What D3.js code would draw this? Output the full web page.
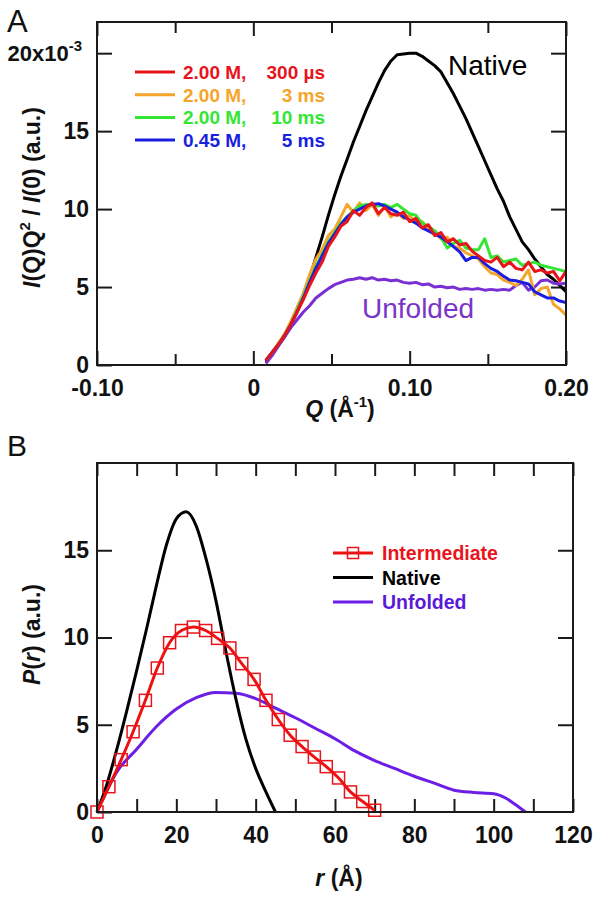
<!DOCTYPE html>
<html>
<head>
<meta charset="utf-8">
<script src="https://cdn.jsdelivr.net/npm/d3@7"></script>
<style>
  html, body { margin: 0; padding: 0; background: #fff; }
  svg { display: block; }
  text { font-family: "Liberation Sans", Arial, sans-serif; }
</style>
</head>
<body>
<svg id="chart" width="601" height="899"></svg>
<script>
// ---------------- Panel A data ----------------
const qA = [0.008,0.012,0.016,0.020,0.024,0.028,0.032,0.036,0.040,0.044,0.048,0.052,0.056,0.060,0.064,0.068,0.072,0.076,0.080,0.084,0.088,0.092,0.096,0.100,0.104,0.108,0.112,0.116,0.120,0.124,0.128,0.132,0.136,0.140,0.144,0.148,0.152,0.156,0.160,0.164,0.168,0.172,0.176,0.180,0.184,0.188,0.192,0.196,0.200];
const nativeA = [0.2,0.7,1.3,1.8,2.6,3.5,4.5,5.6,6.9,8.2,9.6,10.9,12.1,13.2,14.3,15.3,16.3,17.2,18.1,18.9,19.5,19.9,19.95,20.0,20.0,19.8,19.5,19.2,18.8,18.1,17.4,16.6,15.8,14.9,14.0,13.1,12.2,11.3,10.5,9.5,8.7,7.9,7.4,6.8,6.3,5.8,5.5,5.1,4.7];
const unfoldedA = [0.1,0.6,1.2,1.8,2.4,2.9,3.4,3.8,4.3,4.6,4.9,5.15,5.3,5.45,5.5,5.6,5.5,5.6,5.45,5.5,5.4,5.45,5.3,5.25,5.3,5.15,5.2,5.0,5.05,4.95,5.0,4.85,4.9,4.85,4.9,4.8,4.85,4.8,4.85,4.8,5.1,5.3,4.8,5.0,5.4,5.45,5.25,5.2,5.25];
const red300us = [0.3,0.8,1.3,1.9,2.6,3.4,4.2,5.1,5.9,6.6,7.6,8.2,8.9,9.2,9.9,9.6,10.1,10.4,9.7,10.1,9.7,9.6,9.8,9.2,9.4,8.8,9.0,8.3,8.5,7.9,8.1,7.7,7.8,7.3,7.0,6.7,6.6,6.9,6.3,6.6,6.2,6.1,6.6,6.0,6.1,5.9,6.0,5.4,6.0];
const orange3ms = [0.3,0.8,1.4,2.0,2.8,3.7,4.6,5.8,6.8,7.4,8.3,8.7,9.5,10.3,9.8,10.4,9.9,10.3,9.6,10.2,9.5,9.8,9.4,9.6,9.1,9.2,8.7,8.6,8.1,8.2,7.6,7.5,7.2,7.0,6.8,6.3,5.9,5.8,5.45,5.3,5.1,5.5,6.1,4.5,4.9,5.0,3.9,3.6,3.2];
const green10ms = [0.3,0.8,1.3,1.9,2.6,3.5,4.4,5.4,6.3,7.1,7.9,8.5,9.1,9.5,9.9,10.2,10.3,10.3,10.2,10.3,10.1,10.3,10.0,9.7,9.6,9.1,8.9,8.6,8.2,7.5,7.8,8.0,7.5,7.4,7.4,8.1,6.9,7.0,6.6,6.7,6.8,6.4,6.5,6.6,6.4,6.3,6.2,6.1,6.0];
const blue5ms = [0.3,0.8,1.3,1.9,2.6,3.4,4.3,5.3,6.2,7.0,7.8,8.4,9.0,9.5,9.8,10.0,10.2,10.3,10.35,10.2,10.0,9.8,9.5,9.3,9.1,8.8,8.6,8.4,8.2,7.9,7.6,7.25,6.7,6.9,6.9,6.5,6.2,6.0,5.7,5.45,5.4,5.3,5.2,4.7,4.5,4.3,4.3,4.1,4.0];
const legendA_conc = ["2.00 M,", "2.00 M,", "2.00 M,", "0.45 M,"];
const legendA_time = ["300 µs", "3 ms", "10 ms", "5 ms"];
const xTicksA = [-0.10, 0, 0.10, 0.20];
const xMinorA = [-0.05, 0.05, 0.15];
const yTicksA = [0, 5, 10, 15, 20];

// ---------------- Panel B data ----------------
const rNative = [0,2.5,5,7.5,10,12.5,15,17.5,20,22.5,25,27.5,30,32.5,35,37.5,40,42.5,45];
const pNative = [0,1.6,3.6,5.8,8.1,10.5,13.0,15.3,16.8,17.2,16.4,14.5,12.1,9.2,6.5,4.2,2.5,1.2,0];
const rInter = [0,3.0,6.1,9.1,12.2,15.2,18.3,21.3,24.3,27.4,30.4,33.5,36.5,39.6,42.6,45.7,48.7,51.7,54.8,57.8,60.9,63.9,67.0,70.0];
const pInter = [0,1.45,3.0,4.6,6.4,8.25,9.7,10.4,10.6,10.4,9.95,9.4,8.5,7.6,6.4,5.3,4.4,3.75,3.15,2.6,1.95,1.15,0.6,0.1];
const rUnf = [0,5,10,15,20,25,30,35,40,45,50,55,60,65,70,75,80,85,90,95,100,103,105,108];
const pUnf = [0,2.3,3.6,4.9,5.9,6.55,6.85,6.8,6.5,5.95,5.4,4.8,4.2,3.5,2.95,2.5,2.05,1.65,1.25,1.12,1.05,0.8,0.5,0];
const legendB = ["Intermediate", "Native", "Unfolded"];
const xTicksB = [0,20,40,60,80,100,120];
const xMinorB = [10,30,50,70,90,110];
const yTicksB = [0,5,10,15];

// ---------------- drawing ----------------
const svg = d3.select("#chart");
const FONT = '"Liberation Sans", Arial, sans-serif';
const TICKFS = 23;

function frame(g, x0, y0, x1, y1) {
  g.append("rect").attr("x", x0).attr("y", y0).attr("width", x1 - x0).attr("height", y1 - y0)
    .attr("fill", "none").attr("stroke", "#1a1a1a").attr("stroke-width", 2);
}
function styleAxis(sel, fs) {
  sel.select(".domain").remove();
  sel.selectAll(".tick line").attr("stroke", "#1a1a1a").attr("stroke-width", 2);
  sel.selectAll(".tick text").attr("fill", "#111").style("font-family", FONT)
    .style("font-size", fs + "px").style("font-weight", "bold");
}

// ===== Panel A =====
const A = { l: 97, r: 566, t: 22, b: 365 };
const xA = d3.scaleLinear().domain([-0.10, 0.20]).range([A.l, A.r]);
const yA = d3.scaleLinear().domain([0, 22]).range([A.b, A.t]);
const gA = svg.append("g");

const fmtA = d => d === 0 ? "0" : d3.format(".2f")(d).replace("−", "-");
gA.append("g").attr("transform", `translate(0,${A.b})`)
  .call(d3.axisBottom(xA).tickValues(xTicksA).tickSizeInner(-14).tickSizeOuter(0).tickPadding(15).tickFormat(fmtA))
  .call(s => styleAxis(s, TICKFS));
gA.append("g").attr("transform", `translate(0,${A.b})`)
  .call(d3.axisBottom(xA).tickValues(xMinorA).tickSizeInner(-11).tickSizeOuter(0).tickFormat(""))
  .call(s => styleAxis(s, TICKFS));
gA.append("g").attr("transform", `translate(0,${A.t})`)
  .call(d3.axisTop(xA).tickValues(xTicksA).tickSizeInner(-14).tickSizeOuter(0).tickFormat(""))
  .call(s => styleAxis(s, TICKFS));
gA.append("g").attr("transform", `translate(0,${A.t})`)
  .call(d3.axisTop(xA).tickValues(xMinorA).tickSizeInner(-11).tickSizeOuter(0).tickFormat(""))
  .call(s => styleAxis(s, TICKFS));
gA.append("g").attr("transform", `translate(${A.l},0)`)
  .call(d3.axisLeft(yA).tickValues(yTicksA).tickSizeInner(-15).tickSizeOuter(0).tickPadding(8).tickFormat(d => d === 20 ? "" : d))
  .call(s => styleAxis(s, TICKFS));
gA.append("g").attr("transform", `translate(${A.r},0)`)
  .call(d3.axisRight(yA).tickValues(yTicksA.filter(d => d > 0)).tickSizeInner(-15).tickSizeOuter(0).tickFormat(""))
  .call(s => styleAxis(s, TICKFS));
// 20x10^-3 label
const t20 = gA.append("text").attr("x", A.l - 15).attr("y", yA(20) + 8).attr("text-anchor", "end")
  .style("font-size", "22px").style("font-weight", "bold").attr("fill", "#111");
t20.append("tspan").text("20x10");
t20.append("tspan").attr("dy", -10).style("font-size", "15px").text("-3");

// curves A
const lineA = vals => d3.line().x((d, i) => xA(qA[i])).y(d => yA(d))(vals);
const seriesA = [
  { v: nativeA, c: "#000000" },
  { v: unfoldedA, c: "#7a2fd4" },
  { v: orange3ms, c: "#f5a52a" },
  { v: green10ms, c: "#33e633" },
  { v: blue5ms, c: "#1a1ee0" },
  { v: red300us, c: "#e8141c" }
];
svg.append("clipPath").attr("id", "clipA").append("rect")
  .attr("x", A.l).attr("y", A.t).attr("width", A.r - A.l).attr("height", A.b - A.t);
const curvesA = gA.append("g").attr("clip-path", "url(#clipA)");
seriesA.forEach(s => {
  curvesA.append("path").attr("d", lineA(s.v)).attr("fill", "none")
    .attr("stroke", s.c).attr("stroke-width", 3).attr("stroke-linejoin", "round");
});
frame(gA, A.l, A.t, A.r, A.b);

// legend A
const legColA = ["#e8141c", "#f5a52a", "#33e633", "#1a1ee0"];
legendA_conc.forEach((c, i) => {
  const y = 72 + i * 22.7;
  gA.append("line").attr("x1", 135).attr("x2", 175).attr("y1", y).attr("y2", y)
    .attr("stroke", legColA[i]).attr("stroke-width", 3);
  gA.append("text").attr("x", 183).attr("y", y + 7).text(c).attr("fill", legColA[i])
    .style("font-size", "19px").style("font-weight", "bold");
  gA.append("text").attr("x", 325).attr("y", y + 7).attr("text-anchor", "end").text(legendA_time[i])
    .attr("fill", legColA[i]).style("font-size", "19px").style("font-weight", "bold");
});
gA.append("text").attr("x", 448).attr("y", 75).text("Native").attr("fill", "#000").style("font-size", "28px");
gA.append("text").attr("x", 362).attr("y", 318).text("Unfolded").attr("fill", "#7a35c8").style("font-size", "28px");

// axis titles A
const ytA = gA.append("text").attr("transform", `translate(40,${(A.t + A.b) / 2 + 4}) rotate(-90)`)
  .attr("text-anchor", "middle").style("font-size", "23px").style("font-weight", "bold").attr("fill", "#111");
ytA.append("tspan").style("font-style", "italic").text("I");
ytA.append("tspan").text("(Q)Q");
ytA.append("tspan").attr("dy", -10).style("font-size", "15px").text("2");
ytA.append("tspan").attr("dy", 10).text(" / ");
ytA.append("tspan").style("font-style", "italic").text("I");
ytA.append("tspan").text("(0) (a.u.)");

const xtA = gA.append("text").attr("x", 340).attr("y", 417).attr("text-anchor", "middle")
  .style("font-size", "23px").style("font-weight", "bold").attr("fill", "#111");
xtA.append("tspan").style("font-style", "italic").text("Q");
xtA.append("tspan").text(" (Å");
xtA.append("tspan").attr("dy", -10).style("font-size", "15px").text("-1");
xtA.append("tspan").attr("dy", 10).text(")");

svg.append("text").attr("x", 7).attr("y", 32).text("A").style("font-size", "31px").attr("fill", "#111");

// ===== Panel B =====
const B = { l: 97, r: 573, t: 463, b: 812 };
const xB = d3.scaleLinear().domain([0, 120]).range([B.l, B.r]);
const yB = d3.scaleLinear().domain([0, 20]).range([B.b, B.t]);
const gB = svg.append("g");

gB.append("g").attr("transform", `translate(0,${B.b})`)
  .call(d3.axisBottom(xB).tickValues(xTicksB).tickSizeInner(-13).tickSizeOuter(0).tickPadding(15).tickFormat(d3.format("d")))
  .call(s => styleAxis(s, TICKFS));
gB.append("g").attr("transform", `translate(0,${B.b})`)
  .call(d3.axisBottom(xB).tickValues(xMinorB).tickSizeInner(-13).tickSizeOuter(0).tickFormat(""))
  .call(s => styleAxis(s, TICKFS));
gB.append("g").attr("transform", `translate(0,${B.t})`)
  .call(d3.axisTop(xB).tickValues(xTicksB.concat(xMinorB)).tickSizeInner(-13).tickSizeOuter(0).tickFormat(""))
  .call(s => styleAxis(s, TICKFS));
gB.append("g").attr("transform", `translate(${B.l},0)`)
  .call(d3.axisLeft(yB).tickValues(yTicksB).tickSizeInner(-15).tickSizeOuter(0).tickPadding(8).tickFormat(d3.format("d")))
  .call(s => styleAxis(s, TICKFS));
gB.append("g").attr("transform", `translate(${B.r},0)`)
  .call(d3.axisRight(yB).tickValues(yTicksB.filter(d => d > 0)).tickSizeInner(-15).tickSizeOuter(0).tickFormat(""))
  .call(s => styleAxis(s, TICKFS));

const lineB = (xs, ys) => d3.line().curve(d3.curveMonotoneX).x((d, i) => xB(xs[i])).y(d => yB(d))(ys);
gB.append("path").attr("d", lineB(rUnf, pUnf)).attr("fill", "none").attr("stroke", "#6a1ee6").attr("stroke-width", 3);
gB.append("path").attr("d", lineB(rNative, pNative)).attr("fill", "none").attr("stroke", "#000").attr("stroke-width", 3);
gB.append("path").attr("d", lineB(rInter, pInter)).attr("fill", "none").attr("stroke", "#ee1111").attr("stroke-width", 3);
gB.selectAll("rect.sq").data(pInter).enter().append("rect").attr("class", "sq")
  .attr("x", (d, i) => xB(rInter[i]) - 6).attr("y", d => yB(d) - 6).attr("width", 12).attr("height", 12)
  .attr("fill", "none").attr("stroke", "#e8141c").attr("stroke-width", 1.5);
frame(gB, B.l, B.t, B.r, B.b);

// legend B
const legColB = ["#ee1111", "#000000", "#6a1ee6"];
const legTxtB = ["#e8141c", "#000000", "#5a1ad8"];
legendB.forEach((t, i) => {
  const y = 553 + i * 24.5;
  gB.append("line").attr("x1", 333).attr("x2", 373).attr("y1", y).attr("y2", y)
    .attr("stroke", legColB[i]).attr("stroke-width", 3);
  if (i === 0) {
    gB.append("rect").attr("x", 353 - 5.5).attr("y", y - 5.5).attr("width", 11).attr("height", 11)
      .attr("fill", "none").attr("stroke", "#e8141c").attr("stroke-width", 1.5);
  }
  gB.append("text").attr("x", 382).attr("y", y + 7).text(t).attr("fill", legTxtB[i])
    .style("font-size", "19.5px").style("font-weight", "bold");
});

// axis titles B
const ytB = gB.append("text").attr("transform", `translate(40,${(B.t + B.b) / 2 - 3}) rotate(-90)`)
  .attr("text-anchor", "middle").style("font-size", "23px").style("font-weight", "bold").attr("fill", "#111");
ytB.append("tspan").style("font-style", "italic").text("P");
ytB.append("tspan").text("(");
ytB.append("tspan").style("font-style", "italic").text("r");
ytB.append("tspan").text(") (a.u.)");

const xtB = gB.append("text").attr("x", 339).attr("y", 886).attr("text-anchor", "middle")
  .style("font-size", "23px").style("font-weight", "bold").attr("fill", "#111");
xtB.append("tspan").style("font-style", "italic").text("r");
xtB.append("tspan").text(" (Å)");

svg.append("text").attr("x", 7).attr("y", 456).text("B").style("font-size", "30px").attr("fill", "#111");
</script>
</body>
</html>
